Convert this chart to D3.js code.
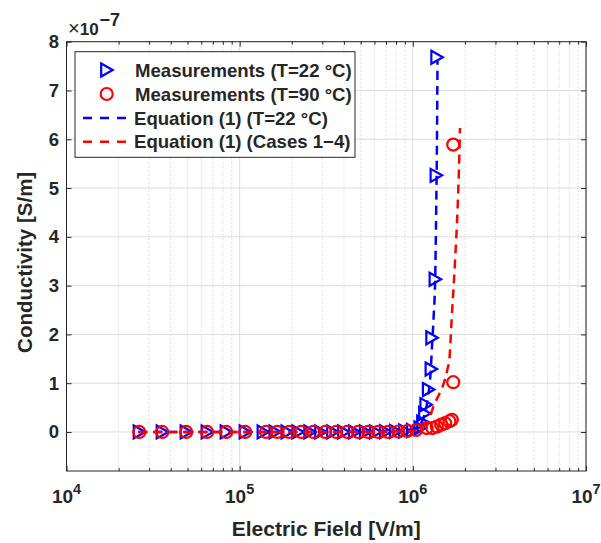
<!DOCTYPE html>
<html>
<head>
<meta charset="utf-8">
<script src="https://cdn.jsdelivr.net/npm/d3@7"></script>
<style>
  html, body { margin: 0; padding: 0; background: #fff; }
  svg { display: block; }
  text { font-family: "Liberation Sans", Arial, Helvetica, sans-serif; font-weight: bold; fill: #262626; }
</style>
</head>
<body>
<svg id="chart" width="601" height="543"></svg>
<script>
// Conductivity values are in units of 1e-7 S/m (axis multiplier ×10^-7).
const EXPONENT = -7;

// Measurements at T = 22 °C
const meas22Field = [26300, 35700, 49100, 64900, 83600, 107600, 136600, 160000, 187700, 216800,
  254300, 294000, 344800, 398800, 461000, 533000, 609000, 696000, 795000, 898000, 996000,
  1100000, 1140000, 1170000, 1190000, 1230000, 1275000, 1287000, 1345000, 1363000, 1376000];
const meas22Sigma = [0, 0, 0, 0, 0, 0, 0, 0, 0, 0,
  0, 0, 0, 0, 0, 0, 0, 0.005, 0.01, 0.02, 0.03,
  0.08, 0.2, 0.38, 0.56, 0.87, 1.29, 1.93, 3.13, 5.26, 7.68];

// Measurements at T = 90 °C
const meas90Field = [26300, 35700, 49100, 64900, 83600, 107600, 142000, 165000, 193000, 226000,
  266000, 312000, 361000, 418000, 483000, 552000, 630000, 720000, 823000, 927000, 1045000,
  1202000, 1298000, 1376000, 1457000, 1537000, 1627000, 1680000, 1711000, 1711000];
const meas90Sigma = [0, 0, 0, 0, 0, 0, 0, 0, 0, 0,
  0, 0, 0, 0, 0, 0, 0, 0, 0.01, 0.02, 0.04,
  0.08, 0.08, 0.11, 0.15, 0.18, 0.22, 0.25, 1.02, 5.89];

// Equation (1), T = 22 °C
const eq22Field = [26000, 100000, 400000, 800000, 1000000, 1080000, 1130000, 1170000, 1200000,
  1230000, 1260000, 1290000, 1320000, 1345000, 1365000, 1380000, 1388000];
const eq22Sigma = [0, 0, 0.003, 0.02, 0.05, 0.12, 0.22, 0.36, 0.52,
  0.78, 1.1, 1.75, 2.4, 3.1, 4.6, 6.2, 7.6];

// Equation (1), cases 1–4
const eqCasesField = [26000, 100000, 500000, 1000000, 1200000, 1340000, 1430000, 1500000, 1590000,
  1625000, 1675000, 1750000, 1815000, 1855000, 1872000];
const eqCasesSigma = [0, 0, 0, 0.02, 0.18, 0.59, 0.8, 0.97, 1.31,
  1.48, 2.3, 3.46, 4.62, 5.65, 6.23];

const xDecades = [1e4, 1e5, 1e6, 1e7];
const yTicks = [0, 1, 2, 3, 4, 5, 6, 7, 8];

const legendLabels = [
  "Measurements (T=22 °C)",
  "Measurements (T=90 °C)",
  "Equation (1) (T=22 °C)",
  "Equation (1) (Cases 1\u22124)"
];

const svg = d3.select("#chart");
const L = 66.5, R = 586, T = 41.7, B = 471;

const x = d3.scaleLog().domain([1e4, 1e7]).range([L, R]);
const y = d3.scaleLinear().domain([-0.8, 8]).range([B, T]);

const minorX = [];
for (let k = 4; k < 7; k++) for (let m = 2; m <= 9; m++) minorX.push(m * Math.pow(10, k));

const gridColor = "#dcdcdc";
const grid = svg.append("g");
// minor x grid (dotted)
grid.selectAll("line.mx").data(minorX).join("line")
  .attr("x1", d => x(d)).attr("x2", d => x(d)).attr("y1", T).attr("y2", B)
  .attr("stroke", gridColor).attr("stroke-width", 1).attr("stroke-dasharray", "2,2");
// major x grid
grid.selectAll("line.Mx").data(xDecades).join("line")
  .attr("x1", d => x(d)).attr("x2", d => x(d)).attr("y1", T).attr("y2", B)
  .attr("stroke", gridColor).attr("stroke-width", 1);
// major y grid
grid.selectAll("line.My").data(yTicks).join("line")
  .attr("x1", L).attr("x2", R).attr("y1", d => y(d)).attr("y2", d => y(d))
  .attr("stroke", gridColor).attr("stroke-width", 1);

// axes with inward ticks on all four sides
const tickLen = 5, minorLen = 3;
function styleAxis(g) {
  g.select(".domain").remove();
  g.selectAll(".tick line").attr("stroke", "#262626");
  g.selectAll(".tick text").remove();
}
svg.append("g").attr("transform", `translate(0,${B})`)
  .call(d3.axisBottom(x).tickValues(xDecades).tickSize(-tickLen)).call(styleAxis);
svg.append("g").attr("transform", `translate(0,${B})`)
  .call(d3.axisBottom(x).tickValues(minorX).tickSize(-minorLen)).call(styleAxis);
svg.append("g").attr("transform", `translate(0,${T})`)
  .call(d3.axisTop(x).tickValues(xDecades).tickSize(-tickLen)).call(styleAxis);
svg.append("g").attr("transform", `translate(0,${T})`)
  .call(d3.axisTop(x).tickValues(minorX).tickSize(-minorLen)).call(styleAxis);
svg.append("g").attr("transform", `translate(${L},0)`)
  .call(d3.axisLeft(y).tickValues(yTicks).tickSize(-tickLen)).call(styleAxis);
svg.append("g").attr("transform", `translate(${R},0)`)
  .call(d3.axisRight(y).tickValues(yTicks).tickSize(-tickLen)).call(styleAxis);

// plot data
const blue = "#0000ff", red = "#ff0000";
const triPath = "M-5.5,-6.5L6,0L-5.5,6.5Z";

const plot = svg.append("g");
plot.selectAll("path.tri").data(d3.range(meas22Field.length)).join("path")
  .attr("d", triPath)
  .attr("transform", i => `translate(${x(meas22Field[i])},${y(meas22Sigma[i])})`)
  .attr("fill", "none").attr("stroke", blue).attr("stroke-width", 2.2);
plot.selectAll("circle.c90").data(d3.range(meas90Field.length)).join("circle")
  .attr("cx", i => x(meas90Field[i])).attr("cy", i => y(meas90Sigma[i])).attr("r", 6)
  .attr("fill", "none").attr("stroke", red).attr("stroke-width", 2.2);

const line = d3.line().x(d => x(d[0])).y(d => y(d[1])).curve(d3.curveMonotoneX);
plot.append("path").datum(d3.zip(eq22Field, eq22Sigma)).attr("d", line)
  .attr("fill", "none").attr("stroke", blue).attr("stroke-width", 2.5).attr("stroke-dasharray", "9,6");
plot.append("path").datum(d3.zip(eqCasesField, eqCasesSigma)).attr("d", line)
  .attr("fill", "none").attr("stroke", red).attr("stroke-width", 2.5).attr("stroke-dasharray", "9,6");

// box
svg.append("rect").attr("x", L).attr("y", T).attr("width", R - L).attr("height", B - T)
  .attr("fill", "none").attr("stroke", "#262626").attr("stroke-width", 1);

// tick labels
svg.selectAll("text.yt").data(yTicks).join("text")
  .attr("x", 59).attr("y", d => y(d) + 6.5).attr("text-anchor", "end")
  .attr("font-size", 18.5).text(d => d);
const xt = svg.selectAll("text.xt").data(xDecades).join("text")
  .attr("x", d => x(d)).attr("y", 503).attr("text-anchor", "middle").attr("font-size", 19);
xt.append("tspan").text("10");
xt.append("tspan").attr("dy", -9).attr("font-size", 14.5).text(d => Math.round(Math.log10(d)));

// exponent multiplier
const mult = svg.append("text").attr("x", 68).attr("y", 35).attr("font-size", 17);
mult.append("tspan").attr("font-weight", "normal").attr("font-size", 20).text("\u00d7");
mult.append("tspan").text("10");
mult.append("tspan").attr("dx", 1).attr("dy", -9).attr("font-size", 18).text("\u2212" + Math.abs(EXPONENT));

// axis labels
svg.append("text").attr("x", (L + R) / 2).attr("y", 536).attr("text-anchor", "middle")
  .attr("font-size", 21).text("Electric Field [V/m]");
svg.append("text").attr("transform", `translate(32,${(T + B) / 2 + 6}) rotate(-90)`)
  .attr("text-anchor", "middle").attr("font-size", 20.5).text("Conductivity [S/m]");

// legend
const lg = svg.append("g");
lg.append("rect").attr("x", 75).attr("y", 51.7).attr("width", 280).attr("height", 105.6)
  .attr("fill", "#fff").attr("stroke", "#262626").attr("stroke-width", 1);
const rowY = [70, 94, 118, 141.7];
lg.append("path").attr("d", triPath).attr("transform", `translate(106.7,${rowY[0]})`)
  .attr("fill", "none").attr("stroke", blue).attr("stroke-width", 2.2);
lg.append("circle").attr("cx", 106.7).attr("cy", rowY[1]).attr("r", 6)
  .attr("fill", "none").attr("stroke", red).attr("stroke-width", 2.2);
[blue, red].forEach((c, i) => {
  lg.append("line").attr("x1", 83).attr("x2", 129).attr("y1", rowY[2 + i]).attr("y2", rowY[2 + i])
    .attr("stroke", c).attr("stroke-width", 2.5).attr("stroke-dasharray", "9,8");
});
lg.selectAll("text.lt").data(legendLabels).join("text")
  .attr("x", (d, i) => i < 2 ? 135 : 134).attr("y", (d, i) => rowY[i] + 6.5)
  .attr("font-size", 18.6).attr("fill", "#000").text(d => d);
</script>
</body>
</html>
